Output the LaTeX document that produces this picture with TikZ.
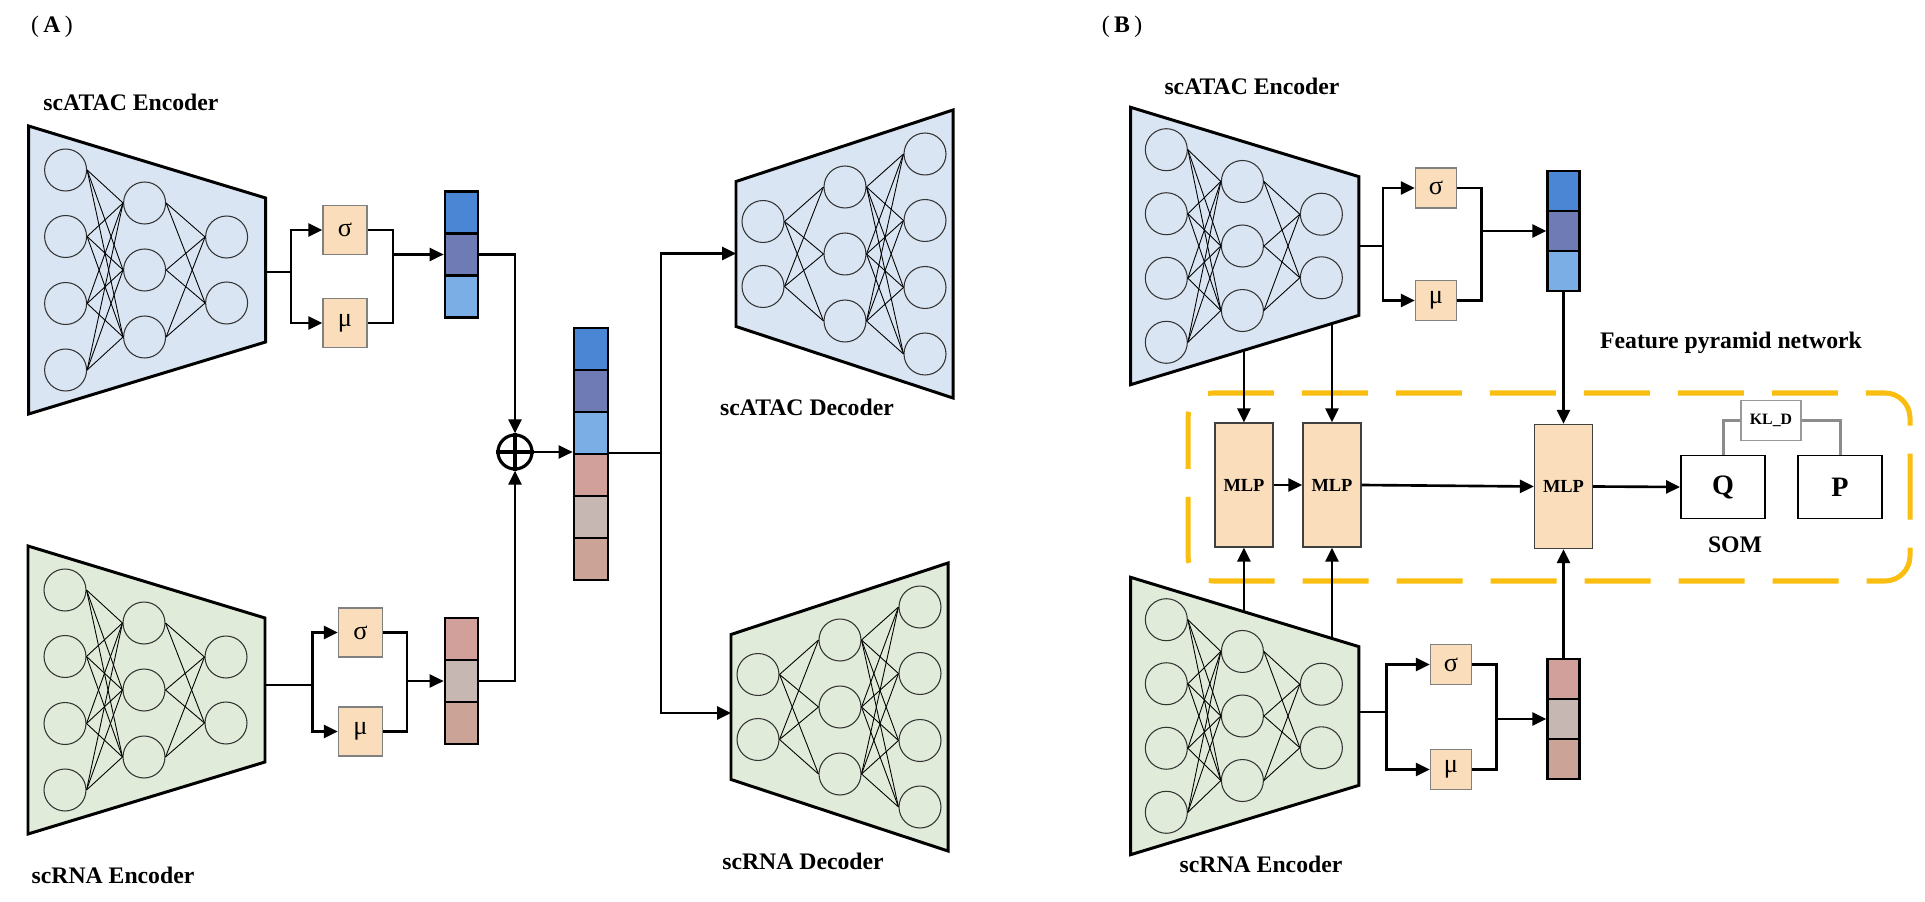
\documentclass[tikz,border=0pt]{standalone}
\usepackage{fontspec}
\setmainfont{Liberation Serif}
\usetikzlibrary{arrows.meta,calc}
\definecolor{atacfill}{HTML}{DAE5F3}
\definecolor{rnafill}{HTML}{E1EBD9}
\definecolor{peach}{HTML}{FADEBB}
\definecolor{vbA}{HTML}{4A86D4}
\definecolor{vbB}{HTML}{6F7BB5}
\definecolor{vbC}{HTML}{7CAEE6}
\definecolor{vrA}{HTML}{D1A09A}
\definecolor{vrB}{HTML}{C7B7B3}
\definecolor{vrC}{HTML}{CCA397}
\definecolor{fpncol}{HTML}{F9BE10}
\definecolor{klgray}{HTML}{8C8C8C}

\tikzset{
  neuron/.style={circle, draw=black!80, line width=0.6pt, minimum size=0.84cm, inner sep=0pt},
  syn/.style={line width=0.5pt, black},
  trap/.style={draw=black, line width=1.7pt, line join=miter},
  conn/.style={line width=1.5pt, black},
  arr/.style={conn, -{Triangle[length=0.28cm,width=0.26cm]}},
  gbox/.style={draw=black!50, line width=0.7pt, fill=peach, inner sep=0pt,
    font=\fontsize{15}{15}\selectfont},
  cell/.style={draw=black, line width=1.5pt, inner sep=0pt},
  lbl/.style={font=\bfseries\fontsize{13.5}{16}\selectfont, inner sep=0pt},
  mlp/.style={draw=black!75, line width=0.7pt, fill=peach, minimum width=1.16cm,
    minimum height=2.48cm, inner sep=0pt, font=\bfseries\fontsize{10.5}{12}\selectfont},
  sombox/.style={draw=black, line width=1.1pt, fill=white, minimum width=1.68cm,
    minimum height=1.26cm, inner sep=0pt, font=\bfseries\fontsize{16}{18}\selectfont},
  klbox/.style={draw=black!40, line width=0.8pt, fill=white, minimum width=1.2cm,
    minimum height=0.8cm, inner sep=0pt, font=\bfseries\fontsize{9}{10}\selectfont},
  klline/.style={line width=1.7pt, klgray},
  fpnline/.style={draw=fpncol, line width=2.85pt, dash pattern=on 1.32cm off 0.56cm, dash phase=0.3cm}
}

% encoder: name, left x, mid y, scale, fill
\newcommand{\encnet}[5]{%
  \coordinate (#1tl) at (#2,{#3-144*#4});
  \coordinate (#1tr) at ({#2+237*#4},{#3-72*#4});
  \coordinate (#1br) at ({#2+237*#4},{#3+72*#4});
  \coordinate (#1bl) at (#2,{#3+144*#4});
  \draw[trap,fill=#5] (#1tl) -- (#1tr) -- (#1br) -- (#1bl) -- cycle;
  \foreach \i/\dy in {1/-100,2/-33.5,3/33.5,4/100}
    \node[neuron] (#1a\i) at ({#2+37*#4},{#3+(\dy)*#4}) {};
  \foreach \i/\dy in {1/-67,2/0,3/67}
    \node[neuron] (#1b\i) at ({#2+116*#4},{#3+(\dy)*#4}) {};
  \foreach \i/\dy in {1/-33,2/33}
    \node[neuron] (#1c\i) at ({#2+198*#4},{#3+(\dy)*#4}) {};
  \foreach \i in {1,2,3,4} \foreach \j in {1,2,3} \draw[syn] (#1a\i.east) -- (#1b\j.west);
  \foreach \i in {1,2,3} \foreach \j in {1,2} \draw[syn] (#1b\i.east) -- (#1c\j.west);
}
% decoder: name, left x, mid y, fill
\newcommand{\decnet}[4]{%
  \coordinate (#1tl) at (#2,{#3-72.5});
  \coordinate (#1tr) at ({#2+217},{#3-144});
  \coordinate (#1br) at ({#2+217},{#3+144});
  \coordinate (#1bl) at (#2,{#3+72.5});
  \draw[trap,fill=#4] (#1tl) -- (#1tr) -- (#1br) -- (#1bl) -- cycle;
  \foreach \i/\dy in {1/-32.5,2/32.5}
    \node[neuron] (#1a\i) at ({#2+27},{#3+(\dy)}) {};
  \foreach \i/\dy in {1/-67,2/0,3/67}
    \node[neuron] (#1b\i) at ({#2+109},{#3+(\dy)}) {};
  \foreach \i/\dy in {1/-100,2/-33.5,3/33.5,4/100}
    \node[neuron] (#1c\i) at ({#2+189},{#3+(\dy)}) {};
  \foreach \i in {1,2} \foreach \j in {1,2,3} \draw[syn] (#1a\i.east) -- (#1b\j.west);
  \foreach \i in {1,2,3} \foreach \j in {1,2,3,4} \draw[syn] (#1b\i.east) -- (#1c\j.west);
}
% stack of three cells: name, cx, top, w, h, c1, c2, c3
\newcommand{\vstack}[8]{%
  \node[cell,fill=#6,minimum width=#4*0.02cm,minimum height=#5*0.02cm] (#11) at (#2,{#3+0.5*#5}) {};
  \node[cell,fill=#7,minimum width=#4*0.02cm,minimum height=#5*0.02cm] (#12) at (#2,{#3+1.5*#5}) {};
  \node[cell,fill=#8,minimum width=#4*0.02cm,minimum height=#5*0.02cm] (#13) at (#2,{#3+2.5*#5}) {};
}

\begin{document}
\begin{tikzpicture}[x=0.02cm,y=-0.02cm]
\useasboundingbox (0,0) rectangle (1925,902);

% ---------------- Panel A ----------------
\node[font=\fontsize{13.5}{16}\selectfont, inner sep=0pt] (labA) at (52,27) {(\hspace{2.5pt}\textbf{A}\hspace{2.5pt})};
\node[lbl] (tEA) at (131,102) {scATAC Encoder};
\node[lbl] (tRA) at (113,875) {scRNA Encoder};
\node[lbl] (tDA) at (807,407) {scATAC Decoder};
\node[lbl] (tDR) at (803,861) {scRNA Decoder};

\encnet{eA}{28.6}{270}{1}{atacfill}
\encnet{rA}{28}{690}{1}{rnafill}

% ATAC branch (A)
\node[gbox, minimum width=0.88cm, minimum height=0.98cm] (sA) at (345,230) {σ};
\node[gbox, minimum width=0.88cm, minimum height=0.98cm] (mA) at (345,323) {μ};
\coordinate (eAout) at (266,272);
\coordinate (brA) at (291,272);
\coordinate (mgA) at (393,254.5);
\draw[conn] (eAout) -- (brA);
\draw[arr] (brA) |- (sA.west);
\draw[arr] (brA) |- (mA.west);
\draw[conn] (sA.east) -| (mgA) |- (mA.east);
\vstack{vA}{461.5}{191.5}{33}{42}{vbA}{vbB}{vbC}
\draw[arr] (mgA) -- (vA2.west);

% RNA branch (A)
\node[gbox, minimum width=0.88cm, minimum height=0.98cm] (sR) at (360.5,632.5) {σ};
\node[gbox, minimum width=0.88cm, minimum height=0.98cm] (mR) at (360.5,731.5) {μ};
\coordinate (rAout) at (266,685);
\coordinate (brR) at (312.5,685);
\coordinate (mgR) at (407,681);
\draw[conn] (rAout) -- (brR);
\draw[arr] (brR) |- (sR.west);
\draw[arr] (brR) |- (mR.west);
\draw[conn] (sR.east) -| (mgR) |- (mR.east);
\vstack{vR}{461.5}{618}{33}{42}{vrA}{vrB}{vrC}
\draw[arr] (mgR) -- (vR2.west);

% concatenation
\node[circle, draw=black, line width=1.8pt, minimum size=0.68cm, inner sep=0pt] (op) at (515,452) {};
\draw[line width=1.8pt] (op.north) -- (op.south) (op.west) -- (op.east);
\draw[arr] (vA2.east) -| (op.north);
\draw[arr] (vR2.east) -| (op.south);
\vstack{cat}{591}{328}{34}{42}{vbA}{vbB}{vbC}
\vstack{catb}{591}{454}{34}{42}{vrA}{vrB}{vrC}
\draw[arr] (op.east) -- (op.east -| cat3.west);

% decoders
\decnet{dA}{736}{254}{atacfill}
\decnet{dR}{731}{707}{rnafill}
\coordinate (catout) at (608,453);
\coordinate (split) at (661,453);
\coordinate (dAin) at (736,253.5);
\coordinate (dRin) at (731,713);
\draw[conn] (catout) -- (split);
\draw[arr] (split) |- (dAin);
\draw[arr] (split) |- (dRin);

% ---------------- Panel B ----------------
\node[font=\fontsize{13.5}{16}\selectfont, inner sep=0pt] (labB) at (1122,27) {(\hspace{2.5pt}\textbf{B}\hspace{2.5pt})};
\node[lbl] (tEB) at (1252,86) {scATAC Encoder};
\node[lbl] (tRB) at (1261,864) {scRNA Encoder};
\node[lbl] (tFPN) at (1731,343) {Feature pyramid network};
\node[lbl] (tSOM) at (1735,545) {SOM};

% dashed frame
\draw[fpnline, rounded corners=0.5cm] (1188,393) rectangle (1910,581);

\encnet{eB}{1130.7}{246}{0.963}{atacfill}
\encnet{rB}{1130.7}{716}{0.963}{rnafill}

% ATAC branch (B)
\node[gbox, minimum width=0.82cm, minimum height=0.8cm] (sB) at (1436,188) {σ};
\node[gbox, minimum width=0.82cm, minimum height=0.8cm] (mB) at (1436,300.5) {μ};
\coordinate (eBout) at (1359,246);
\coordinate (brB) at (1383,246);
\coordinate (mgB) at (1481.7,231);
\draw[conn] (eBout) -- (brB);
\draw[arr] (brB) |- (sB.west);
\draw[arr] (brB) |- (mB.west);
\draw[conn] (sB.east) -| (mgB) |- (mB.east);
\vstack{vB}{1563.5}{171}{31.6}{40}{vbA}{vbB}{vbC}
\draw[arr] (mgB) -- (vB2.west);

% RNA branch (B)
\node[gbox, minimum width=0.82cm, minimum height=0.8cm] (sC) at (1451,664.5) {σ};
\node[gbox, minimum width=0.82cm, minimum height=0.8cm] (mC) at (1451,769.5) {μ};
\coordinate (rBout) at (1359,712);
\coordinate (brC) at (1386.7,712);
\coordinate (mgC) at (1496.7,719);
\draw[conn] (rBout) -- (brC);
\draw[arr] (brC) |- (sC.west);
\draw[arr] (brC) |- (mC.west);
\draw[conn] (sC.east) -| (mgC) |- (mC.east);
\vstack{vC}{1563.5}{659}{31.6}{40}{vrA}{vrB}{vrC}
\draw[arr] (mgC) -- (vC2.west);

% MLPs
\node[mlp] (mlp1) at (1244,485) {MLP};
\node[mlp] (mlp2) at (1332,485) {MLP};
\node[mlp] (mlp3) at (1563.5,486.5) {MLP};

\coordinate (tapA1) at ($(eBbl)!0.496!(eBbr)$);
\coordinate (tapA2) at ($(eBbl)!0.882!(eBbr)$);
\coordinate (tapR1) at ($(rBtl)!0.496!(rBtr)$);
\coordinate (tapR2) at ($(rBtl)!0.882!(rBtr)$);
\draw[arr] (tapA1) -- (tapA1 |- mlp1.north);
\draw[arr] (tapA2) -- (tapA2 |- mlp2.north);
\draw[arr] (tapR1) -- (tapR1 |- mlp1.south);
\draw[arr] (tapR2) -- (tapR2 |- mlp2.south);
\draw[arr] (vB3.south) -- (mlp3.north);
\draw[arr] (vC1.north) -- (mlp3.south);
\draw[arr] (mlp1.east) -- (mlp2.west);
\draw[arr] (mlp2.east) -- (mlp3.west);

% SOM
\node[sombox] (q) at (1723,487) {Q};
\node[sombox] (p) at (1840,487) {P};
\node[klbox] (kl) at (1771,420.5) {KL\_D};
\draw[klline] (kl.west) -| (q.north);
\draw[klline] (kl.east) -| (p.north);
\draw[arr] (mlp3.east) -- (q.west);

\end{tikzpicture}
\end{document}
